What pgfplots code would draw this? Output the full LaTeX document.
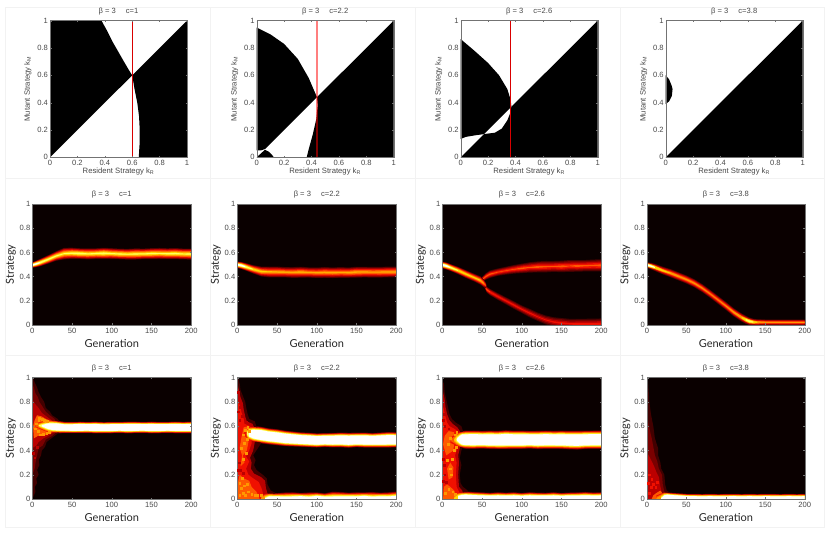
\documentclass[border=0pt]{standalone}
\usepackage{fontspec}
\setmainfont{Liberation Sans}
\newfontfamily\gill{Lato}
\usepackage{pgfplots}
\usepackage{pgfplotstable}
\pgfplotsset{compat=1.18}

\definecolor{hb}{HTML}{0A0000}
\definecolor{ha}{HTML}{420000}
\definecolor{hc}{HTML}{7A0000}
\definecolor{hd}{HTML}{BB0000}
\definecolor{he}{HTML}{F01000}
\definecolor{hf}{HTML}{FF5A00}
\definecolor{hg}{HTML}{FF9800}
\definecolor{hh}{HTML}{FFD800}
\definecolor{hi}{HTML}{FFFF60}
\definecolor{fr}{HTML}{F2F2F2}
\definecolor{tk}{HTML}{484848}

% one ridge: clipped triangular profile, g c w p; rows go there and back (s=1,-1)
\newcommand\mkpoly[1]{%
  \pgfplotstablesort[sort key=g,sort cmp=float >]{\rv}{#1}%
  \pgfplotstablecreatecol[create col/set={1}]{s}{#1}%
  \pgfplotstablecreatecol[create col/set={-1}]{s}{\rv}%
  \pgfplotstablevertcat{#1}{\rv}}
\newcommand\lev[3]{%
  \addplot[fill=#3,draw=none,no markers,forget plot] table[x expr={\thisrow{p}>#2 ? \thisrow{g} : nan},y expr={\thisrow{c}+1.18*\thisrow{s}*\thisrow{w}*max(0,1-#2/\thisrow{p})}] {#1};
}
\newcommand\bandout[1]{\lev{#1}{.07}{ha}\lev{#1}{.15}{hc}\lev{#1}{.25}{hd}}
\newcommand\bandin[1]{\lev{#1}{.35}{he}\lev{#1}{.47}{hf}\bandhi{#1}}
\newcommand\bandhi[1]{\lev{#1}{.6}{hg}\lev{#1}{.72}{hh}\lev{#1}{.85}{hi}\lev{#1}{1}{white}}
\newcommand\band[1]{\bandout{#1}\bandin{#1}}
\newcommand\bandwout[1]{\lev{#1}{.1}{ha}\lev{#1}{.22}{hc}\lev{#1}{.37}{hd}}
\newcommand\bandwin[1]{\lev{#1}{.52}{he}\lev{#1}{.7}{hf}\lev{#1}{.9}{hg}\lev{#1}{1.08}{hh}\lev{#1}{1.27}{hi}\lev{#1}{1.5}{white}}

% row 2
\pgfplotstableread{
g c w p
0 .495 .020 1.3
5 .505 .024 1.25
10 .516 .028 1.1
20 .542 .032 1.0
30 .570 .036 .95
40 .590 .044 .9
50 .593 .042 .95
60 .590 .040 1
70 .588 .042 .92
80 .590 .040 .95
90 .592 .042 1
100 .590 .041 .92
110 .587 .040 .95
120 .585 .041 .9
130 .587 .042 .95
140 .588 .040 .92
150 .590 .041 .95
160 .591 .042 .9
170 .589 .041 .95
180 .590 .042 .95
190 .587 .041 .92
200 .586 .042 .95
}\tBa
\pgfplotstableread{
g c w p
0 .498 .024 1.3
5 .492 .026 1.3
10 .482 .028 1.15
20 .460 .032 .9
30 .442 .038 .8
40 .438 .042 .72
50 .438 .042 .75
60 .436 .040 .72
70 .434 .042 .7
80 .436 .042 .75
90 .434 .040 .7
100 .432 .041 .7
110 .434 .042 .72
120 .432 .041 .72
130 .434 .042 .7
140 .433 .040 .72
150 .436 .042 .75
160 .437 .041 .72
170 .436 .042 .7
180 .436 .041 .72
190 .438 .042 .72
200 .438 .042 .72
}\tBb
\pgfplotstableread{
g c w p
0 .497 .024 1.35
5 .488 .026 1.3
10 .476 .026 1.1
20 .450 .028 .95
30 .420 .030 .85
40 .392 .030 .8
48 .368 .032 .8
52 .345 .030 .7
55 .325 .022 .5
}\tCa
\pgfplotstableread{
g c w p
50 .375 .020 .55
55 .402 .026 .55
60 .420 .030 .55
70 .437 .030 .5
80 .449 .032 .5
90 .460 .035 .5
100 .468 .038 .55
110 .476 .042 .5
120 .480 .044 .55
130 .482 .046 .52
140 .484 .044 .5
150 .484 .046 .55
160 .488 .048 .5
170 .488 .046 .55
180 .490 .046 .52
190 .492 .048 .52
200 .493 .048 .55
}\tCb
\pgfplotstableread{
g c w p
53 .325 .014 .5
56 .292 .024 .55
60 .272 .026 .5
70 .235 .028 .45
80 .200 .030 .42
90 .165 .032 .42
100 .130 .032 .4
110 .098 .036 .4
120 .068 .036 .38
130 .042 .038 .38
140 .025 .040 .4
150 .016 .042 .42
160 .010 .042 .4
170 .008 .044 .42
180 .008 .044 .42
190 .008 .046 .42
200 .008 .046 .45
}\tCc
\pgfplotstableread{
g c w p
0 .496 .022 .7
5 .487 .026 .7
10 .476 .028 .7
20 .450 .030 .7
30 .428 .032 .7
40 .402 .032 .7
50 .376 .032 .7
60 .345 .032 .68
70 .305 .032 .65
80 .258 .032 .62
90 .208 .032 .62
100 .158 .032 .65
110 .105 .032 .7
120 .062 .032 .7
125 .044 .032 .7
130 .030 .030 .7
135 .024 .026 .7
140 .022 .024 .7
150 .022 .022 .7
160 .022 .022 .7
170 .021 .022 .7
180 .021 .022 .7
190 .021 .022 .7
200 .021 .022 .7
}\tDa
\pgfplotstableread{
g c w p
0 .496 .022 1.35
5 .487 .026 1.2
10 .476 .028 1.05
20 .450 .030 .85
30 .428 .032 .75
40 .402 .032 .72
}\tDb
\pgfplotstableread{
g c w p
105 .132 .032 .68
110 .105 .032 .72
120 .062 .032 .85
125 .044 .032 1.0
130 .030 .030 1.1
135 .024 .026 1.0
140 .022 .024 .85
150 .022 .022 .72
}\tDc

% row 3
\pgfplotstableread{
g c w p
4 .605 .022 .9
8 .606 .034 1.3
12 .604 .040 1.7
16 .602 .048 2
20 .600 .052 2.4
25 .597 .050 2.8
30 .595 .048 3
35 .592 .044 3.2
40 .590 .041 3.2
50 .589 .040 3.5
60 .590 .041 3.5
70 .590 .040 3.5
80 .589 .042 3.5
90 .588 .040 3.5
100 .589 .041 3.5
110 .590 .040 3.5
120 .589 .042 3.5
130 .590 .041 3.5
140 .590 .040 3.5
150 .589 .042 3.5
160 .589 .041 3.5
170 .590 .040 3.5
180 .590 .042 3.5
190 .589 .041 3.5
200 .590 .042 3.5
}\tE
\pgfplotstableread{
g c w p
8 .535 .030 .7
12 .540 .046 1.5
15 .540 .056 2.4
20 .535 .060 3
30 .527 .060 3.5
40 .516 .058 3.5
50 .509 .058 3.5
60 .500 .056 3.6
70 .495 .054 3.6
80 .490 .052 3.6
90 .487 .052 3.6
100 .483 .051 3.6
110 .486 .050 3.6
120 .485 .052 3.6
130 .487 .053 3.6
140 .484 .054 3.6
150 .487 .052 3.6
160 .486 .054 3.6
170 .484 .052 3.6
180 .486 .054 3.6
190 .488 .056 3.6
200 .488 .054 3.6
}\tFa
\pgfplotstableread{
g c w p
30 .000 .050 .7
35 .000 .052 1.1
40 .002 .048 1.5
50 .004 .040 1.6
60 .003 .046 1.4
70 .002 .048 1.5
80 .003 .042 1.7
90 .002 .047 1.4
100 .003 .046 1.7
110 .002 .040 1.6
120 .003 .052 1.4
130 .002 .050 1.5
140 .003 .044 1.6
150 .002 .048 1.5
160 .003 .046 1.7
170 .002 .050 1.4
180 .003 .044 1.6
190 .002 .048 1.5
200 .003 .052 1.6
}\tFb
\pgfplotstableread{
g c w p
10 .485 .060 .75
15 .487 .062 1.1
18 .490 .066 1.6
22 .490 .064 2.5
25 .490 .062 3.5
30 .489 .066 3.5
40 .489 .066 3.6
50 .489 .064 3.6
60 .488 .066 3.6
70 .487 .066 3.6
80 .489 .068 3.6
90 .488 .066 3.6
100 .488 .066 3.6
110 .489 .064 3.6
120 .487 .066 3.6
130 .489 .066 3.6
140 .488 .065 3.6
150 .488 .066 3.6
160 .486 .067 3.6
170 .485 .068 3.6
180 .488 .066 3.6
190 .489 .066 3.6
200 .489 .066 3.6
}\tGa
\pgfplotstableread{
g c w p
15 .004 .050 .8
20 .006 .052 1.4
25 .006 .048 2
30 .006 .050 2
40 .006 .046 1.9
50 .005 .044 1.9
60 .006 .040 1.8
70 .006 .044 1.8
80 .005 .042 1.8
90 .006 .044 1.8
100 .005 .040 1.8
110 .006 .044 1.8
120 .005 .042 1.8
130 .006 .040 1.8
140 .006 .044 1.8
150 .005 .040 1.8
160 .006 .042 1.8
170 .005 .044 1.8
180 .006 .046 1.8
190 .006 .042 1.8
200 .006 .044 1.8
}\tGb
\pgfplotstableread{
g c w p
12 .000 .050 .7
18 .000 .056 1.1
22 .002 .054 1.8
26 .004 .046 2.4
30 .004 .042 2.4
40 .004 .038 2.2
50 .004 .034 2
60 .004 .034 1.9
70 .004 .032 1.9
80 .004 .034 1.9
90 .004 .032 1.9
100 .004 .033 1.9
110 .004 .034 1.9
120 .004 .032 1.9
130 .004 .034 1.9
140 .004 .032 1.9
150 .004 .034 1.9
160 .004 .033 1.9
170 .004 .032 1.9
180 .004 .034 1.9
190 .004 .032 1.9
200 .004 .034 1.9
}\tH

\mkpoly{\tBa}\mkpoly{\tBb}\mkpoly{\tCa}\mkpoly{\tCb}\mkpoly{\tCc}\mkpoly{\tDa}\mkpoly{\tDb}\mkpoly{\tDc}%
\mkpoly{\tE}\mkpoly{\tFa}\mkpoly{\tFb}\mkpoly{\tGa}\mkpoly{\tGb}\mkpoly{\tH}%

\pgfplotsset{
  base/.style={scale only axis,axis on top,clip=true,
    axis line style={draw=black!55,line width=.4pt},
    tick align=inside,major tick length=1.5pt,tick style={draw=black!55,line width=.3pt},
    ymin=0,ymax=1,ytick={0,.2,.4,.6,.8,1},
    tick label style={font=\fontsize{7.6}{8}\selectfont,text=tk},
    /pgf/number format/assume math mode=true,
    /pgf/number format/fixed,
    xticklabel shift=-.5pt,yticklabel shift=-1.5pt,
    title style={at={(axis description cs:.5,1)},anchor=center,yshift=3.5pt,font=\fontsize{7.6}{8}\selectfont,text=tk},
    xlabel style={at={(axis description cs:.5,0)},anchor=center},
    ylabel style={at={(axis description cs:0,.5)},anchor=center},
  },
  pip/.style={base,width=137pt,height=136.6pt,xmin=0,xmax=1,xtick={0,.2,.4,.6,.8,1},
    xlabel={Resident Strategy k\textsubscript{R}},ylabel={Mutant Strategy k\textsubscript{M}},
    xlabel style={yshift=-14.5pt,font=\fontsize{7.7}{9}\selectfont,text=tk},
    ylabel style={yshift=22pt,font=\fontsize{7.7}{9}\selectfont,text=tk},
  },
  heat/.style={base,width=159pt,height=121pt,xmin=0,xmax=200,xtick={0,50,100,150,200},
    xlabel={Generation},ylabel={Strategy},
    axis background/.style={fill=hb},
    xlabel style={yshift=-19pt,font=\gill\fontsize{11}{12}\selectfont,text=black!85},
    ylabel style={yshift=21.5pt,font=\gill\fontsize{11}{12}\selectfont,text=black!85},
  },
}

\begin{document}
\begin{tikzpicture}
\path[use as bounding box] (0pt,0pt) rectangle (830pt,533pt);
% faint panel frames
\draw[fr,line width=.6pt] (5pt,526pt)--(824.5pt,526pt) (5pt,355pt)--(824.5pt,355pt) (5pt,178pt)--(824.5pt,178pt) (5pt,6pt)--(824.5pt,6pt);
\draw[fr,line width=.6pt] (5pt,6pt)--(5pt,526pt) (210pt,6pt)--(210pt,526pt) (415.5pt,6pt)--(415.5pt,526pt) (620.5pt,6pt)--(620.5pt,526pt) (824.5pt,6pt)--(824.5pt,526pt);

% row 1
\begin{axis}[pip,at={(50pt,375.7pt)},anchor=south west,title={β = 3\hspace{10pt}c=1}]
\addplot[fill=black,draw=none] coordinates {(0,0)(0,1)(.376,1)(.42,.92)(.46,.84)(.50,.77)(.54,.70)(.575,.64)(.6,.6)};
\addplot[fill=black,draw=none] coordinates {(.6,.6)(1,1)(1,0)(.648,0)(.654,.1)(.655,.2)(.65,.3)(.637,.4)(.617,.5)};
\addplot[red!85!black,line width=.7pt] coordinates {(.6,0)(.6,1)};
\end{axis}
\begin{axis}[pip,at={(256.7pt,375.7pt)},anchor=south west,title={β = 3\hspace{10pt}c=2.2}]
\addplot[fill=black,draw=none] coordinates {(0,.95)(.1,.90)(.2,.83)(.3,.72)(.38,.58)(.44,.44)(.06,.06)(.03,.05)(0,.05)};
\addplot[fill=black,draw=none] coordinates {(.44,.44)(1,1)(1,0)(.365,0)(.38,.06)(.41,.17)(.435,.28)(.445,.38)};
\addplot[fill=black,draw=none] coordinates {(0,0)(.06,.055)(.09,.04)(.11,.02)(.125,0)};
\addplot[red,opacity=.5,line width=1.2pt] coordinates {(.44,0)(.44,1)};
\end{axis}
\begin{axis}[pip,at={(460.7pt,375.7pt)},anchor=south west,title={β = 3\hspace{10pt}c=2.6}]
\addplot[fill=black,draw=none] coordinates {(0,.865)(.1,.78)(.2,.69)(.28,.60)(.34,.50)(.365,.42)(.37,.37)(.17,.17)(.1,.16)(.04,.15)(0,.135)};
\addplot[fill=black,draw=none] coordinates {(.37,.37)(1,1)(1,0)(0,0)(.17,.17)(.25,.18)(.30,.21)(.34,.27)(.36,.32)};
\addplot[red!85!black,line width=.7pt] coordinates {(.365,0)(.365,1)};
\end{axis}
\begin{axis}[pip,at={(665.7pt,375.7pt)},anchor=south west,title={β = 3\hspace{10pt}c=3.8}]
\addplot[fill=black,draw=none] coordinates {(0,0)(1,1)(1,0)};
\addplot[fill=black,draw=none] coordinates {(0,.6)(.025,.57)(.045,.52)(.05,.5)(.045,.45)(.025,.41)(0,.39)};
\end{axis}

% row 2
\begin{axis}[heat,at={(32.3pt,208pt)},anchor=south west,title={β = 3\hspace{10pt}c=1}]
\band{\tBa}
\end{axis}
\begin{axis}[heat,at={(237.3pt,208pt)},anchor=south west,title={β = 3\hspace{10pt}c=2.2}]
\band{\tBb}
\end{axis}
\begin{axis}[heat,at={(442.3pt,208pt)},anchor=south west,title={β = 3\hspace{10pt}c=2.6}]
\band{\tCb}\band{\tCc}\band{\tCa}
\end{axis}
\begin{axis}[heat,at={(647pt,208pt)},anchor=south west,width=157.7pt,title={β = 3\hspace{10pt}c=3.8}]
\band{\tDa}\bandhi{\tDb}\bandhi{\tDc}
\end{axis}

% row 3
\begin{axis}[heat,at={(32.3pt,34pt)},anchor=south west,height=121.3pt,title={β = 3\hspace{10pt}c=1}]
\bandwout{\tE}
\addplot[fill=ha,draw=none] coordinates {(0,0)(2,.03)(4,.06)(3,.1)(6,.13)(5,.17)(8,.2)(6,.24)(9,.28)(8,.32)(11,.36)(12,.4)(16,.43)(18,.47)(24,.5)(30,.53)(34,.55)(34,.64)(32,.66)(25,.69)(22,.72)(17,.75)(15,.8)(11,.84)(8,.88)(6,.92)(3,.96)(1,1)(0,1)};
\addplot[fill=hc,draw=none] coordinates {(0,.2)(3,.25)(4,.3)(6,.36)(8,.42)(13,.44)(17,.49)(25,.52)(30,.55)(30,.63)(28,.66)(22,.69)(17,.72)(13,.76)(9,.8)(7,.84)(4,.87)(2,.92)(0,.95)};
\addplot[fill=hd,draw=none] coordinates {(0,.42)(5,.44)(8,.47)(14,.5)(20,.52)(27,.55)(27,.63)(24,.65)(18,.68)(12,.71)(8,.75)(4,.78)(0,.82)};
\addplot[fill=hf,draw=none] coordinates {(2,.5)(7,.52)(13,.52)(18,.53)(25,.55)(25,.64)(17,.66)(12,.68)(6,.69)(3,.65)(1,.6)};
\addplot[only marks,mark=square*,mark size=.9pt,hg,mark options={draw=none}] coordinates {(10,.53)(14,.535)(18,.545)(21,.55)(7,.56)(5,.62)(8,.65)(12,.655)(15,.65)(19,.64)(4,.58)(9,.665)};
\addplot[only marks,mark=square*,mark size=.9pt,hd,mark options={draw=none}] coordinates {(2,.72)(5,.74)(3,.46)(6,.43)(1,.38)(3,.34)};
\bandwin{\tE}
\end{axis}
\begin{axis}[heat,at={(237.3pt,34pt)},anchor=south west,height=121.3pt,title={β = 3\hspace{10pt}c=2.2}]
\bandout{\tFb}\bandwout{\tFa}
\addplot[fill=ha,draw=none] coordinates {(0,0)(48,0)(48,.05)(42,.07)(38,.12)(37,.17)(32,.2)(24,.24)(21,.28)(23,.32)(20,.36)(25,.41)(30,.46)(30,.55)(24,.6)(22,.64)(15,.66)(13,.7)(11,.76)(10,.8)(7,.85)(4,.9)(3,.95)(1,1)(0,1)};
\addplot[fill=hd,draw=none] coordinates {(0,0)(40,0)(36,.09)(35,.15)(30,.18)(21,.21)(17,.25)(18,.3)(16,.34)(20,.4)(22,.47)(22,.58)(19,.62)(12,.64)(10,.68)(8,.74)(7,.79)(4,.84)(2,.9)(0,.96)};
\addplot[fill=he,draw=none] coordinates {(0,0)(34,0)(31,.08)(27,.14)(20,.17)(14,.2)(11,.25)(15,.31)(11,.35)(15,.4)(18,.46)(18,.56)(16,.6)(9,.62)(8,.66)(5,.72)(4,.76)(1,.8)(0,.85)};
\addplot[fill=hf,draw=none] coordinates {(1,0)(28,0)(24,.06)(18,.1)(15,.15)(8,.17)(3,.2)(1,.14)};
\addplot[fill=hf,draw=none] coordinates {(4,.27)(9,.3)(7,.36)(12,.4)(14,.47)(14,.6)(8,.59)(5,.5)(3,.42)(6,.36)};
\addplot[only marks,mark=square*,mark size=.9pt,hg,mark options={draw=none}] coordinates {(3,.03)(7,.05)(10,.03)(14,.06)(18,.04)(22,.03)(5,.09)(9,.11)(3,.13)(12,.12)(7,.33)(11,.38)(5,.42)(9,.46)(12,.49)(10,.57)(13,.59)(7,.53)(15,.56)(25,.03)(30,.03)(6,.17)};
\addplot[only marks,mark=square*,mark size=.9pt,hd,mark options={draw=none}] coordinates {(2,.3)(1,.24)(4,.24)(7,.21)(3,.65)(6,.68)(1,.72)(3,.76)(11,.63)(1,.88)(21,.19)(26,.16)(31,.12)};
\bandin{\tFb}\bandwin{\tFa}
\end{axis}
\begin{axis}[heat,at={(442.3pt,34pt)},anchor=south west,height=121.3pt,title={β = 3\hspace{10pt}c=2.6}]
\bandout{\tGb}\bandwout{\tGa}
\addplot[fill=ha,draw=none] coordinates {(0,0)(32,0)(32,.07)(26,.1)(23,.13)(22,.2)(24,.28)(22,.34)(24,.4)(26,.44)(26,.56)(24,.6)(17,.63)(12,.66)(9,.7)(7,.76)(5,.82)(3,.88)(2,.95)(0,.98)};
\addplot[fill=hd,draw=none] coordinates {(0,0)(28,0)(25,.07)(21,.1)(20,.2)(21,.3)(20,.36)(22,.42)(22,.56)(19,.59)(13,.62)(9,.65)(6,.7)(4,.76)(3,.82)(1,.88)(0,.92)};
\addplot[fill=he,draw=none] coordinates {(0,0)(24,0)(21,.06)(18,.1)(17,.2)(18,.3)(16,.36)(19,.42)(19,.56)(15,.58)(9,.6)(6,.63)(4,.68)(2,.74)(0,.78)};
\addplot[fill=hf,draw=none] coordinates {(1,0)(19,0)(15,.07)(10,.1)(6,.12)(2,.1)};
\addplot[fill=hf,draw=none] coordinates {(5,.36)(14,.4)(15,.47)(15,.55)(8,.56)(3,.52)(1,.45)};
\addplot[fill=hf,draw=none] coordinates {(8,.16)(13,.18)(14,.26)(10,.3)(6,.25)};
\addplot[only marks,mark=square*,mark size=.9pt,hg,mark options={draw=none}] coordinates {(4,.05)(8,.08)(13,.06)(16,.04)(11,.2)(10,.25)(6,.32)(12,.33)(15,.4)(17,.43)(16,.53)(18,.55)(7,.45)(10,.5)};
\addplot[only marks,mark=square*,mark size=.9pt,hd,mark options={draw=none}] coordinates {(1,.15)(3,.2)(2,.28)(5,.14)(1,.33)(3,.6)(1,.65)(8,.58)(2,.7)};
\bandin{\tGb}\bandwin{\tGa}
\end{axis}
\begin{axis}[heat,at={(647pt,34pt)},anchor=south west,width=157.7pt,height=121.3pt,title={β = 3\hspace{10pt}c=3.8}]
\bandout{\tH}
\addplot[fill=ha,draw=none] coordinates {(0,0)(30,0)(30,.05)(25,.07)(23,.12)(22,.2)(18,.25)(17,.3)(14,.36)(14,.42)(10,.5)(8,.6)(5,.7)(3,.8)(2,.9)(1,1)(0,1)};
\addplot[fill=hc,draw=none] coordinates {(0,0)(26,0)(22,.06)(20,.12)(19,.2)(15,.25)(13,.31)(10,.36)(8,.43)(6,.5)(3,.58)(1,.66)(0,.7)};
\addplot[fill=hd,draw=none] coordinates {(0,0)(22,0)(19,.05)(17,.1)(15,.18)(12,.22)(9,.27)(6,.31)(3,.35)(0,.38)};
\addplot[fill=hf,draw=none] coordinates {(6,0)(22,0)(20,.04)(17,.07)(12,.05)(8,.03)};
\addplot[only marks,mark=square*,mark size=.9pt,he,mark options={draw=none}] coordinates {(3,.05)(5,.1)(2,.13)(8,.12)(11,.1)(6,.16)(3,.2)(13,.14)};
\bandin{\tH}
\end{axis}
\end{tikzpicture}
\end{document}
